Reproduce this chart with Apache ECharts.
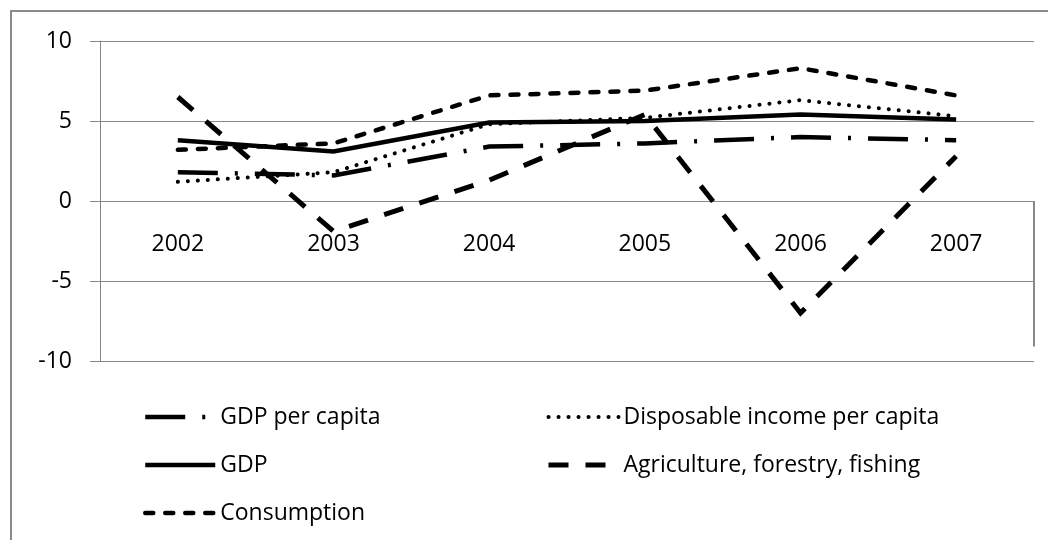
<!DOCTYPE html>
<html>
<head>
<meta charset="utf-8">
<script src="https://cdn.jsdelivr.net/npm/echarts@6/dist/echarts.min.js"></script>
<style>
  html, body { margin: 0; padding: 0; background: #fff; }
  #chart { width: 1048px; height: 540px; }
</style>
</head>
<body>
<div id="chart"></div>
<script>
// Annual growth rates (%), 2002-2007
var years = ['2002', '2003', '2004', '2005', '2006', '2007'];
var gdpPerCapita = [1.8, 1.6, 3.4, 3.6, 4.0, 3.8];
var disposableIncome = [1.2, 1.8, 4.8, 5.2, 6.3, 5.3];
var gdp = [3.8, 3.1, 4.9, 5.0, 5.4, 5.1];
var agriculture = [6.5, -1.9, 1.3, 5.4, -7.0, 2.8];
var consumption = [3.2, 3.6, 6.6, 6.9, 8.3, 6.6];
var yTicks = { min: -10, max: 10, step: 5 };

var FONT = '"Open Sans", "DejaVu Sans", sans-serif';
var GRID_COLOR = '#878787';
var INK = '#000';

var GRID = { left: 100, right: 14, top: 41, bottom: 179 };
var CHART_H = 540;
var plotH = CHART_H - GRID.top - GRID.bottom;
// category axis sits on the zero line, labels hang below it
var zeroFromBottom = plotH * (0 - yTicks.min) / (yTicks.max - yTicks.min);

function lineSeries(name, data, style) {
  return {
    name: name,
    type: 'line',
    data: data,
    symbol: 'none',
    showSymbol: false,
    silent: true,
    animation: false,
    lineStyle: Object.assign({ color: INK, width: 4.5, cap: 'butt', join: 'miter' }, style),
    itemStyle: { color: INK }
  };
}

var chart = echarts.init(document.getElementById('chart'), null, { renderer: 'canvas' });

var legendText = { fontFamily: FONT, fontSize: 23, color: INK, lineHeight: 24 };
var legendCommon = {
  orient: 'vertical',
  top: 400,
  itemWidth: 70, itemHeight: 14, itemGap: 24,
  textStyle: legendText,
  itemStyle: { opacity: 0, color: 'rgba(0,0,0,0)', borderWidth: 0 },
  lineStyle: { width: 'inherit', type: 'inherit', cap: 'inherit', color: INK }
};

chart.setOption({
  backgroundColor: '#fff',
  animation: false,
  grid: Object.assign({ containLabel: false }, GRID),
  legend: [
    Object.assign({ left: 138, data: ['GDP per capita', 'GDP', 'Consumption'] }, legendCommon),
    Object.assign({ left: 541, data: ['Disposable income per capita', 'Agriculture, forestry, fishing'] }, legendCommon)
  ],
  xAxis: {
    type: 'category',
    data: years,
    boundaryGap: true,
    offset: -zeroFromBottom,
    axisLine: { onZero: false, lineStyle: { color: GRID_COLOR, width: 1 } },
    axisTick: { show: false },
    axisLabel: { fontFamily: FONT, fontSize: 23, color: INK, margin: 32 },
    splitLine: { show: false }
  },
  yAxis: {
    type: 'value',
    min: yTicks.min, max: yTicks.max, interval: yTicks.step,
    axisLine: { show: true, lineStyle: { color: GRID_COLOR, width: 1 } },
    axisTick: { show: true, length: 10, lineStyle: { color: GRID_COLOR, width: 1 } },
    axisLabel: { fontFamily: FONT, fontSize: 23, color: INK, margin: 28 },
    splitLine: { show: true, lineStyle: { color: GRID_COLOR, width: 1 } }
  },
  series: [
    lineSeries('GDP per capita', gdpPerCapita, { type: [40, 17, 3, 17] }),
    lineSeries('Disposable income per capita', disposableIncome, { width: 4, cap: 'round', type: [0.1, 9.9] }),
    lineSeries('GDP', gdp, { type: 'solid' }),
    lineSeries('Agriculture, forestry, fishing', agriculture, { width: 5, type: [20, 17] }),
    lineSeries('Consumption', consumption, { cap: 'round', type: [8, 12] })
  ]
});

// Frame around the chart and the short right edge of the plot below zero
var top0 = chart.convertToPixel({ yAxisIndex: 0 }, 0);
var lowEdge = chart.convertToPixel({ yAxisIndex: 0 }, -9.1);
var rightX = chart.getWidth() - GRID.right;
chart.setOption({
  graphic: [
    {
      type: 'rect', silent: true,
      shape: { x: 11, y: 11, width: 1100, height: 600 },
      style: { fill: null, stroke: '#8a8a8a', lineWidth: 2 }
    },
    {
      type: 'line', silent: true,
      shape: { x1: rightX, y1: top0, x2: rightX, y2: lowEdge },
      style: { stroke: '#8a8a8a', lineWidth: 2 }
    }
  ]
});
</script>
</body>
</html>
